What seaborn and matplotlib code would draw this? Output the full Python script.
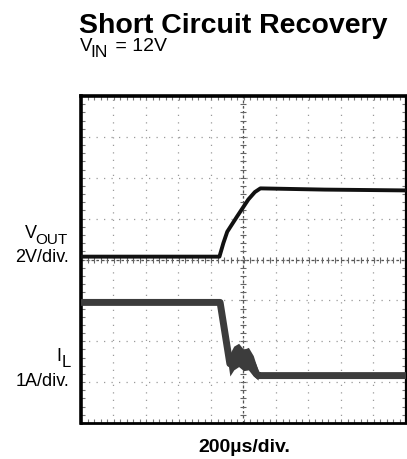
import numpy as np
import matplotlib
matplotlib.use("Agg")
import matplotlib.pyplot as plt
import seaborn as sns

# --- Data (scope divisions: x -5..5, y -4..4) ---
vout_t = [-5.0, -0.74, -0.62, -0.5, -0.2, 0.15, 0.35, 0.52, 2.5, 5.0]
vout_v = [0.07, 0.07, 0.40, 0.68, 1.05, 1.47, 1.65, 1.74, 1.71, 1.69]

il_t = [-5.0, -0.72, -0.62, -0.52, -0.42, -0.3, -0.15, 0.0, 0.15, 0.28, 0.4, 0.46, 5.0]
il_v = [-1.05, -1.05, -1.55, -2.05, -2.55, -2.38, -2.32, -2.48, -2.43, -2.57, -2.80, -2.84, -2.84]

# noise envelope around the current bump
band_t = [-0.52, -0.42, -0.3, -0.15, 0.0, 0.15, 0.3, 0.45]
band_lo = [-2.3, -2.85, -2.7, -2.62, -2.72, -2.7, -2.85, -2.95]
band_hi = [-1.9, -2.3, -2.12, -2.05, -2.2, -2.15, -2.35, -2.72]

# --- Figure ---
sns.set_style("white")
plt.rcParams["font.family"] = ["Liberation Sans", "DejaVu Sans"]
plt.rcParams["text.color"] = "black"
fig = plt.figure(figsize=(4.07, 4.60), dpi=100)
ax = fig.add_axes([81 / 407, 36 / 460, 325 / 407, 327 / 460])

ax.set_xlim(-5, 5)
ax.set_ylim(-4, 4)

# graticule
for x in range(-4, 5):
    ax.axvline(x, color="#9a9a9a", lw=0.9, ls=(0, (1, 5)), zorder=1)
for y in range(-3, 4):
    ax.axhline(y, color="#9a9a9a", lw=0.9, ls=(0, (1, 5)), zorder=1)
ax.axvline(0, color="#555555", lw=0.9, ls=(0, (2, 2)), zorder=1)
ax.axhline(0, color="#555555", lw=0.9, ls=(0, (2, 2)), zorder=1)
minor = np.arange(-5, 5.01, 0.2)
ax.plot(minor, np.zeros_like(minor), ls="none", marker="|", ms=4, color="#666666", mew=0.8, zorder=1)
minor_y = np.arange(-4, 4.01, 0.2)
ax.plot(np.zeros_like(minor_y), minor_y, ls="none", marker="_", ms=4, color="#666666", mew=0.8, zorder=1)

# traces
ax.fill_between(band_t, band_lo, band_hi, color="#3c3c3c", lw=0, zorder=2)
sns.lineplot(x=il_t, y=il_v, ax=ax, color="#3c3c3c", lw=5.0, zorder=3)
sns.lineplot(x=vout_t, y=vout_v, ax=ax, color="#111111", lw=2.8, zorder=4)

# border ticks every 1/5 division, pointing inward
ax.set_xticks([])
ax.set_yticks([])
ax.set_xticks(minor, minor=True)
ax.set_yticks(minor_y, minor=True)
ax.tick_params(which="minor", direction="in", length=3, width=0.8, color="#777777",
               top=True, bottom=True, left=True, right=True,
               labelbottom=False, labelleft=False)
ax.set_xlabel("")
ax.set_ylabel("")
for side, w in [("left", 2.6), ("top", 2.6), ("right", 1.6), ("bottom", 2.0)]:
    ax.spines[side].set_visible(True)
    ax.spines[side].set_color("black")
    ax.spines[side].set_linewidth(w)

# --- Text ---
def px(x, y):
    return x / 407, 1 - y / 460


def sub_label(x, y, main, sub, size, sub_size, drop, gap):
    t = fig.text(*px(x, y), main, fontsize=size, va="baseline", ha="left")
    ax.annotate(sub, xy=(1, 0), xycoords=t, xytext=(gap, -drop), textcoords="offset points",
                fontsize=sub_size, va="bottom", ha="left", annotation_clip=False)


fig.text(*px(79, 33), "Short Circuit Recovery", fontsize=20.5, fontweight="bold", va="baseline", ha="left")

t_v = fig.text(*px(80, 51), "V", fontsize=13.5, va="baseline", ha="left")
t_in = ax.annotate("IN", xy=(1, 0), xycoords=t_v, xytext=(-1.5, -3.5), textcoords="offset points",
                   fontsize=12.5, va="bottom", ha="left", annotation_clip=False)
ax.annotate(" = 12V", xy=(1, 0), xycoords=t_in, xytext=(1.5, 3.5), textcoords="offset points",
            fontsize=14, va="bottom", ha="left", annotation_clip=False)

sub_label(25, 238, "V", "OUT", 13, 11, 3.5, -1.5)
fig.text(*px(69, 262), "2V/div.", fontsize=13, va="baseline", ha="right")
sub_label(56, 361, "I", "L", 13, 12, 3.5, 0.8)
fig.text(*px(69, 386), "1A/div.", fontsize=13, va="baseline", ha="right")
fig.text(*px(244, 452), "200µs/div.", fontsize=14, fontweight="bold", va="baseline", ha="center")

fig.savefig("out.png", dpi=100)
